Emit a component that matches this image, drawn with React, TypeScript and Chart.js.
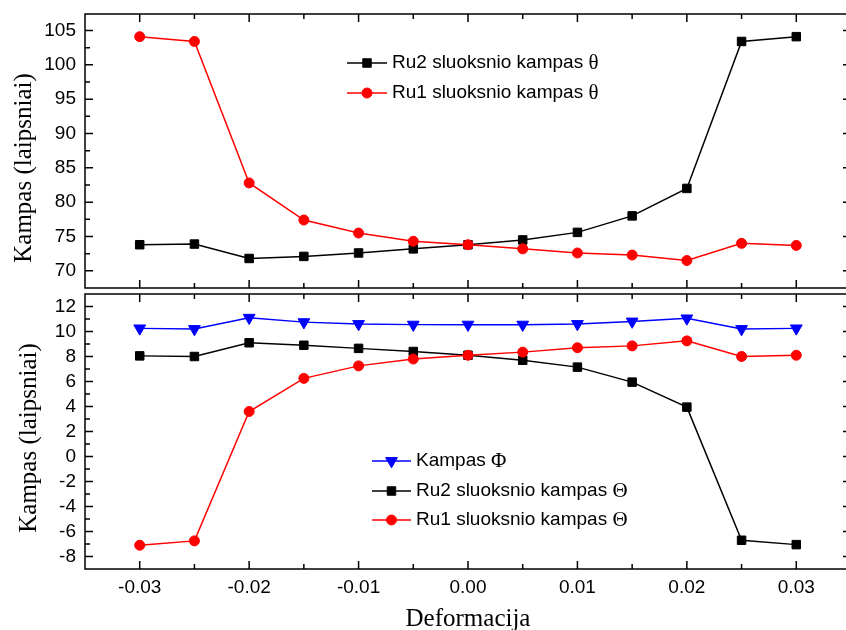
import React, { useEffect, useRef } from 'react';
import { Chart, registerables } from 'chart.js';

Chart.register(...registerables);

// ---------- data ----------
const DEFORMATION = [-0.03, -0.025, -0.02, -0.015, -0.01, -0.005, 0, 0.005, 0.01, 0.015, 0.02, 0.025, 0.03];

const RU2_THETA_TOP = [73.8, 73.9, 71.8, 72.1, 72.6, 73.2, 73.8, 74.5, 75.6, 78.0, 82.0, 103.4, 104.1];
const RU1_THETA_TOP = [104.1, 103.4, 82.8, 77.4, 75.5, 74.3, 73.8, 73.2, 72.6, 72.3, 71.5, 74.0, 73.7];

const PHI_BOTTOM = [10.25, 10.2, 11.1, 10.75, 10.6, 10.55, 10.55, 10.55, 10.6, 10.8, 11.05, 10.2, 10.25];
const RU2_THETA_BOTTOM = [8.05, 8.0, 9.1, 8.9, 8.65, 8.4, 8.1, 7.7, 7.15, 5.95, 3.95, -6.7, -7.05];
const RU1_THETA_BOTTOM = [-7.1, -6.75, 3.6, 6.25, 7.25, 7.8, 8.1, 8.35, 8.7, 8.85, 9.25, 8.0, 8.1];

const X_TICKS = [-0.03, -0.02, -0.01, 0, 0.01, 0.02, 0.03];
const X_MINOR_TICKS = [-0.025, -0.015, -0.005, 0.005, 0.015, 0.025];
const TOP_Y_TICKS = [70, 75, 80, 85, 90, 95, 100, 105];
const TOP_Y_MINOR_TICKS = [72.5, 77.5, 82.5, 87.5, 92.5, 97.5, 102.5];
const BOTTOM_Y_TICKS = [-8, -6, -4, -2, 0, 2, 4, 6, 8, 10, 12];
const BOTTOM_Y_MINOR_TICKS = [-7, -5, -3, -1, 1, 3, 5, 7, 9, 11];

const Y_TITLE = 'Kampas (laipsniai)';
const X_TITLE = 'Deformacija';
const TOP_LEGEND = [
  { key: 'ru2', text: 'Ru2 sluoksnio kampas ', greek: 'θ' },
  { key: 'ru1', text: 'Ru1 sluoksnio kampas ', greek: 'θ' },
];
const BOTTOM_LEGEND = [
  { key: 'phi', text: 'Kampas ', greek: 'Φ' },
  { key: 'ru2', text: 'Ru2 sluoksnio kampas ', greek: 'Θ' },
  { key: 'ru1', text: 'Ru1 sluoksnio kampas ', greek: 'Θ' },
];

// ---------- styles ----------
const SANS = '"Liberation Sans", Arial, sans-serif';
const SERIF = '"Liberation Serif", "Times New Roman", serif';
const BLACK = '#000000';
const RED = '#ff0000';
const BLUE = '#0000ff';

const STYLES: Record<string, { color: string; style: string; radius: number; rotation: number }> = {
  ru2: { color: BLACK, style: 'rect', radius: 6, rotation: 0 },
  ru1: { color: RED, style: 'circle', radius: 5, rotation: 0 },
  phi: { color: BLUE, style: 'triangle', radius: 6.8, rotation: 180 },
};

function makeDataset(key: string, values: number[]) {
  const s = STYLES[key];
  return {
    label: key,
    data: DEFORMATION.map((x, i) => ({ x, y: values[i] })),
    borderColor: s.color,
    backgroundColor: s.color,
    borderWidth: 1.5,
    pointStyle: s.style,
    pointRadius: s.radius,
    pointRotation: s.rotation,
    pointBorderWidth: 1,
    pointBackgroundColor: s.color,
    pointBorderColor: s.color,
    tension: 0,
    fill: false,
  };
}

function drawMarker(ctx: CanvasRenderingContext2D, key: string, x: number, y: number) {
  const s = STYLES[key];
  ctx.save();
  ctx.fillStyle = s.color;
  ctx.strokeStyle = s.color;
  ctx.lineWidth = 1;
  ctx.beginPath();
  const r = s.radius;
  if (s.style === 'rect') {
    const h = r * Math.SQRT1_2;
    ctx.rect(x - h, y - h, 2 * h, 2 * h);
  } else if (s.style === 'circle') {
    ctx.arc(x, y, r, 0, Math.PI * 2);
  } else {
    ctx.moveTo(x, y + r);
    ctx.lineTo(x - r * 0.866, y - r / 2);
    ctx.lineTo(x + r * 0.866, y - r / 2);
    ctx.closePath();
  }
  ctx.fill();
  ctx.stroke();
  ctx.restore();
}

type PanelOpts = {
  xMinor: number[];
  yMajor: number[];
  yMinor: number[];
  yTitlePos: { x: number; y: number };
  legend: { key: string; text: string; greek: string }[];
  legendPos: { x0: number; x1: number; textX: number; rows: number[] };
  xTitle?: { x: number; y: number };
};

function framePlugin(p: PanelOpts) {
  return {
    id: 'frameAndExtras',
    afterDraw(chart: any) {
      const ctx: CanvasRenderingContext2D = chart.ctx;
      const a = chart.chartArea;
      const xs = chart.scales.x;
      const ys = chart.scales.y;
      const MAJ = 8;
      const MIN = 5;
      ctx.save();
      ctx.strokeStyle = BLACK;
      ctx.lineWidth = 1.5;
      ctx.strokeRect(a.left, a.top, a.right - a.left, a.bottom - a.top);
      ctx.beginPath();
      const xt = (v: number, len: number) => {
        const px = xs.getPixelForValue(v);
        ctx.moveTo(px, a.bottom);
        ctx.lineTo(px, a.bottom - len);
        ctx.moveTo(px, a.top);
        ctx.lineTo(px, a.top + len);
      };
      const yt = (v: number, len: number) => {
        const py = ys.getPixelForValue(v);
        ctx.moveTo(a.left, py);
        ctx.lineTo(a.left + len, py);
        ctx.moveTo(a.right, py);
        ctx.lineTo(a.right - len, py);
      };
      X_TICKS.forEach((v) => xt(v, MAJ));
      p.xMinor.forEach((v) => xt(v, MIN));
      p.yMajor.forEach((v) => yt(v, MAJ));
      p.yMinor.forEach((v) => yt(v, MIN));
      ctx.stroke();

      // y title
      ctx.save();
      ctx.translate(p.yTitlePos.x, p.yTitlePos.y);
      ctx.rotate(-Math.PI / 2);
      ctx.fillStyle = BLACK;
      ctx.font = `25px ${SERIF}`;
      ctx.textAlign = 'center';
      ctx.textBaseline = 'middle';
      ctx.fillText(Y_TITLE, 0, 0);
      ctx.restore();

      // x title
      if (p.xTitle) {
        ctx.fillStyle = BLACK;
        ctx.font = `25px ${SERIF}`;
        ctx.textAlign = 'center';
        ctx.textBaseline = 'alphabetic';
        ctx.fillText(X_TITLE, p.xTitle.x, p.xTitle.y);
      }

      // legend
      p.legend.forEach((item, i) => {
        const y = p.legendPos.rows[i];
        const s = STYLES[item.key];
        ctx.strokeStyle = s.color;
        ctx.lineWidth = 1.5;
        ctx.beginPath();
        ctx.moveTo(p.legendPos.x0, y);
        ctx.lineTo(p.legendPos.x1, y);
        ctx.stroke();
        drawMarker(ctx, item.key, (p.legendPos.x0 + p.legendPos.x1) / 2, y);
        ctx.fillStyle = BLACK;
        ctx.textAlign = 'left';
        ctx.textBaseline = 'middle';
        ctx.font = `19px ${SANS}`;
        ctx.fillText(item.text, p.legendPos.textX, y);
        const w = ctx.measureText(item.text).width;
        ctx.font = `21px ${SERIF}`;
        ctx.fillText(item.greek, p.legendPos.textX + w, y);
      });
      ctx.restore();
    },
  };
}

const tickFont = { family: SANS, size: 19 };

function yScale(min: number, max: number, ticksArr: number[]) {
  return {
    type: 'linear',
    min,
    max,
    grid: { display: false, drawTicks: false },
    border: { display: false },
    ticks: {
      color: BLACK,
      font: tickFont,
      padding: 9,
      callback: (v: any) => String(v),
    },
    afterBuildTicks: (s: any) => {
      s.ticks = ticksArr.map((value) => ({ value }));
    },
    afterFit: (s: any) => {
      s.width = 85;
      s.paddingTop = 0;
      s.paddingBottom = 0;
    },
  };
}

function xScale(showLabels: boolean) {
  return {
    type: 'linear',
    min: -0.035,
    max: 0.035,
    display: showLabels,
    grid: { display: false, drawTicks: false },
    border: { display: false },
    ticks: {
      color: BLACK,
      font: tickFont,
      padding: 7,
      maxRotation: 0,
      callback: (v: any) => Number(v).toFixed(2),
    },
    afterBuildTicks: (s: any) => {
      s.ticks = X_TICKS.map((value) => ({ value }));
    },
    afterFit: (s: any) => {
      s.height = showLabels ? 61 : 0;
      s.paddingLeft = 0;
      s.paddingRight = 0;
    },
  };
}

export default function App() {
  const topRef = useRef<HTMLCanvasElement>(null);
  const botRef = useRef<HTMLCanvasElement>(null);

  useEffect(() => {
    const common = {
      responsive: false,
      animation: false,
      devicePixelRatio: 1,
      plugins: { legend: { display: false }, tooltip: { enabled: false } },
    };

    const top = new Chart(topRef.current as HTMLCanvasElement, {
      type: 'line',
      data: {
        datasets: [makeDataset('ru1', RU1_THETA_TOP), makeDataset('ru2', RU2_THETA_TOP)],
      },
      options: {
        ...common,
        layout: { padding: { left: 0, right: 9, top: 14, bottom: 342 } },
        scales: {
          x: xScale(false),
          y: yScale(67.5, 107.4, TOP_Y_TICKS),
        },
      } as any,
      plugins: [
        framePlugin({
          xMinor: X_MINOR_TICKS,
          yMajor: TOP_Y_TICKS,
          yMinor: TOP_Y_MINOR_TICKS,
          yTitlePos: { x: 24, y: 168 },
          legend: TOP_LEGEND,
          legendPos: { x0: 347, x1: 387, textX: 392, rows: [63, 93] },
        }),
      ],
    } as any);

    const bottom = new Chart(botRef.current as HTMLCanvasElement, {
      type: 'line',
      data: {
        datasets: [
          makeDataset('ru1', RU1_THETA_BOTTOM),
          makeDataset('ru2', RU2_THETA_BOTTOM),
          makeDataset('phi', PHI_BOTTOM),
        ],
      },
      options: {
        ...common,
        layout: { padding: { left: 0, right: 9, top: 294, bottom: 0 } },
        scales: {
          x: xScale(true),
          y: yScale(-9, 13, BOTTOM_Y_TICKS),
        },
      } as any,
      plugins: [
        framePlugin({
          xMinor: X_MINOR_TICKS,
          yMajor: BOTTOM_Y_TICKS,
          yMinor: BOTTOM_Y_MINOR_TICKS,
          yTitlePos: { x: 29, y: 438 },
          legend: BOTTOM_LEGEND,
          legendPos: { x0: 372, x1: 411, textX: 416, rows: [461, 491, 520] },
          xTitle: { x: 468, y: 626 },
        }),
      ],
    } as any);

    return () => {
      top.destroy();
      bottom.destroy();
    };
  }, []);

  const canvasStyle: React.CSSProperties = { position: 'absolute', left: 0, top: 0 };
  return (
    <div
      style={{
        position: 'absolute',
        left: 0,
        top: 0,
        width: 846,
        height: 630,
        overflow: 'hidden',
        background: '#ffffff',
      }}
    >
      <canvas ref={topRef} width={860} height={630} style={canvasStyle} />
      <canvas ref={botRef} width={860} height={630} style={canvasStyle} />
    </div>
  );
}
